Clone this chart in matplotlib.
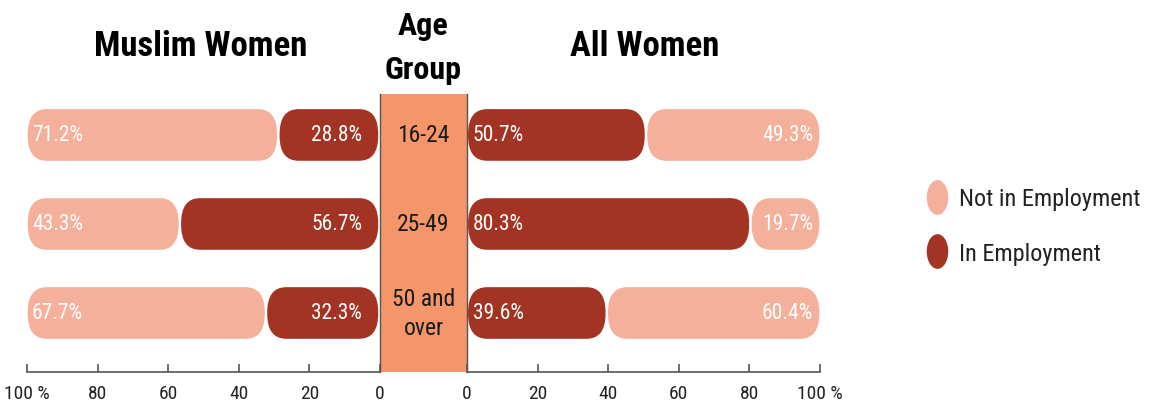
"""Employment status of Muslim women vs all women, split by age group."""

import matplotlib
matplotlib.use("Agg")
import matplotlib.pyplot as plt
from matplotlib import font_manager
from matplotlib.lines import Line2D
from matplotlib.patches import FancyBboxPatch
from matplotlib.path import Path
from matplotlib.transforms import Affine2D

AGE_GROUPS = ["16-24", "25-49", "50 and\nover"]
MUSLIM_IN = [28.8, 56.7, 32.3]
MUSLIM_NOT = [71.2, 43.3, 67.7]
ALL_IN = [50.7, 80.3, 39.6]
ALL_NOT = [49.3, 19.7, 60.4]
TICKS = [0, 20, 40, 60, 80, 100]
TICK_LABELS = ["0", "20", "40", "60", "80", "100 %"]

LIGHT = "#F5B09B"
DARK = "#A33424"
BAND = "#F4966A"
AXIS_GREY = "#555555"

_installed = {f.name for f in font_manager.fontManager.ttflist}
NARROW = next((name for name in ["Roboto Condensed", "Liberation Sans Narrow"] if name in _installed), "DejaVu Sans")

W, H = 1156, 410
fig = plt.figure(figsize=(W / 100, H / 100), dpi=100)

bottom, height = 37 / H, 278 / H
ax_left = fig.add_axes([27 / W, bottom, 353 / W, height])
ax_mid = fig.add_axes([380 / W, bottom, 87 / W, height])
ax_right = fig.add_axes([467 / W, bottom, 353 / W, height])

rows = [2, 1, 0]  # top row first
YLIM = (-0.663, 2.46)
BAR_H = 0.58
GAP = 0.35
RADIUS_X_PX, RADIUS_Y_PX = 19, 25


def _rounded_bar(axis, start, end, y, color):
    """Rounded bar between two x values; corner radii given in screen pixels."""
    lo, hi = min(start, end), max(start, end)
    x_px = 353 / 100
    y_px = 278 / (YLIM[1] - YLIM[0])
    r = RADIUS_X_PX / x_px
    aspect = (RADIUS_Y_PX / y_px) / r
    axis.add_patch(FancyBboxPatch(
        (lo, y - BAR_H / 2), hi - lo, BAR_H,
        boxstyle=f"round,pad=0,rounding_size={r}",
        mutation_aspect=aspect, facecolor=color, edgecolor="none",
    ))


def _style_panel(axis, inverted):
    axis.set_xlim(100, 0) if inverted else axis.set_xlim(0, 100)
    axis.set_ylim(*YLIM)
    for side in ("left", "right", "top"):
        axis.spines[side].set_visible(False)
    axis.spines["bottom"].set_color(AXIS_GREY)
    axis.spines["bottom"].set_linewidth(1.2)
    axis.set_yticks([])
    axis.set_xticks(TICKS)
    axis.set_xticklabels(TICK_LABELS, fontfamily=NARROW, fontsize=14, color="#222222")
    axis.tick_params(axis="x", direction="in", length=6, width=1.2, color=AXIS_GREY, pad=9)
    axis.set_facecolor("none")


_style_panel(ax_left, inverted=True)
_style_panel(ax_right, inverted=False)

label_kw = dict(color="white", fontfamily=NARROW, fontsize=15.5, va="center")
for y, m_in, m_not, a_in, a_not in zip(rows, MUSLIM_IN, MUSLIM_NOT, ALL_IN, ALL_NOT):
    # Muslim women: employment grows outward from the centre band
    _rounded_bar(ax_left, 0.5, m_in - GAP, y, DARK)
    _rounded_bar(ax_left, m_in + GAP, 99.8, y, LIGHT)
    ax_left.text(98.6, y, f"{m_not}%", ha="left", **label_kw)
    ax_left.text(5.0, y, f"{m_in}%", ha="right", **label_kw)
    # All women
    _rounded_bar(ax_right, 0.3, a_in - GAP, y, DARK)
    _rounded_bar(ax_right, a_in + GAP, 99.8, y, LIGHT)
    ax_right.text(1.6, y, f"{a_in}%", ha="left", **label_kw)
    ax_right.text(98.0, y, f"{a_not}%", ha="right", **label_kw)

ax_mid.set_facecolor(BAND)
ax_mid.set_xlim(0, 1)
ax_mid.set_ylim(*YLIM)
ax_mid.set_xticks([])
ax_mid.set_yticks([])
ax_mid.spines["top"].set_visible(False)
ax_mid.spines["bottom"].set_visible(False)
for side in ("left", "right"):
    ax_mid.spines[side].set_color(AXIS_GREY)
    ax_mid.spines[side].set_linewidth(1.0)
for y, group in zip(rows, AGE_GROUPS):
    ax_mid.text(0.5, y, group, ha="center", va="center", fontfamily=NARROW,
                fontsize=17, color="#1a1a1a", linespacing=1.35)

title_kw = dict(fontfamily=NARROW, fontweight="bold", color="black", ha="center", va="center")
fig.text(201 / W, 1 - 46 / H, "Muslim Women", fontsize=25, **title_kw)
fig.text(645 / W, 1 - 46 / H, "All Women", fontsize=25, **title_kw)
fig.text(423 / W, 1 - 26 / H, "Age", fontsize=23, **title_kw)
fig.text(423 / W, 1 - 70 / H, "Group", fontsize=23, **title_kw)

ellipse = Affine2D().scale(0.62, 1.0).transform_path(Path.unit_circle())
handles = [
    Line2D([], [], linestyle="none", marker=ellipse, markersize=25,
           markerfacecolor=LIGHT, markeredgecolor="none", label="Not in Employment"),
    Line2D([], [], linestyle="none", marker=ellipse, markersize=25,
           markerfacecolor=DARK, markeredgecolor="none", label="In Employment"),
]
fig.legend(handles=handles, loc="center left", bbox_to_anchor=(915 / W, 1 - 227 / H),
           frameon=False, prop={"family": NARROW, "size": 17.5}, labelcolor="#222222",
           handlelength=1.0, handletextpad=0.4, labelspacing=1.3, borderaxespad=0)

fig.savefig("out.png", dpi=100)
